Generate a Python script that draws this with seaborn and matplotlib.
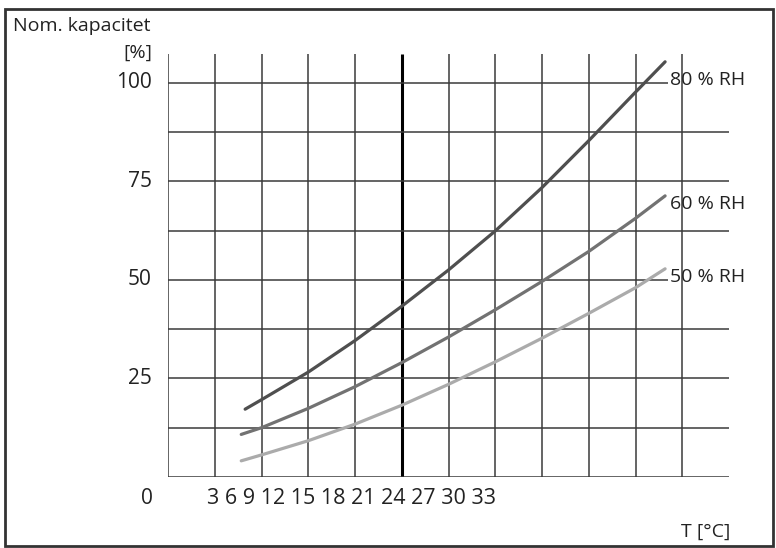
import numpy as np
import pandas as pd
import seaborn as sns
import matplotlib
matplotlib.use("Agg")
import matplotlib.pyplot as plt
from matplotlib.patches import Rectangle

# %% data
rh_labels = ["80 % RH", "60 % RH", "50 % RH"]
temp_80 = [4.95, 6, 9, 12, 15, 18, 21, 24, 27, 30, 31.9]
cap_80 = [17.2, 19.6, 26.6, 34.6, 43.3, 52.5, 62.4, 73.4, 85.3, 97.6, 105.3]
temp_60 = [4.7, 6, 9, 12, 15, 18, 21, 24, 27, 30, 31.9]
cap_60 = [10.8, 12.5, 17.4, 22.9, 29.0, 35.5, 42.4, 49.6, 57.2, 65.6, 71.3]
temp_50 = [4.7, 6, 9, 12, 15, 18, 21, 24, 27, 30, 31.9]
cap_50 = [4.1, 5.6, 9.2, 13.4, 18.2, 23.5, 29.2, 35.2, 41.5, 48.0, 52.8]

x_tick_labels = ["3", "6", "9", "12", "15", "18", "21", "24", "27", "30", "33"]
y_tick_labels = ["100", "75", "50", "25"]
y_ticks = [100, 75, 50, 25]
grid_x = np.arange(0, 34, 3)
grid_y = np.arange(0, 101, 12.5)

# %% style
sns.set_style("white")
plt.rcParams["font.family"] = ["Open Sans", "DejaVu Sans"]
line_colors = ["#4f4f4f", "#727272", "#ababab"]
grid_color = "#3a3a3a"
txt_color = "#222222"
fs = 14

df = pd.concat([
    pd.DataFrame({"T": temp_80, "cap": cap_80, "rh": rh_labels[0]}),
    pd.DataFrame({"T": temp_60, "cap": cap_60, "rh": rh_labels[1]}),
    pd.DataFrame({"T": temp_50, "cap": cap_50, "rh": rh_labels[2]}),
])

fig = plt.figure(figsize=(7.76, 5.48), dpi=100)
W, H = 776, 548
ax = fig.add_axes([168 / W, (H - 477) / H, (729 - 168) / W, (477 - 54) / H])
ax.set_xlim(0, 36)
ax.set_ylim(0, (477 - 54) / 3.943)
ax.axis("off")

# %% grid
for gx in grid_x:
    lw, c = (2.2, "black") if gx == 15 else (1.1, grid_color)
    ax.vlines(gx, 0, ax.get_ylim()[1], color=c, lw=lw, zorder=1)
for gy in grid_y:
    xend = 32.1 if gy in (100, 50) else 36
    ax.hlines(gy, 0, xend, color=grid_color, lw=1.1, zorder=1)

# %% curves
sns.lineplot(data=df, x="T", y="cap", hue="rh", hue_order=rh_labels,
             palette=line_colors, lw=2.3, legend=False, ax=ax, zorder=3)

label_y = [100.7, 69.2, 50.6]
for lab, ly in zip(rh_labels, label_y):
    ax.text(32.2, ly, lab, fontsize=fs, ha="left", va="center",
            color=txt_color, clip_on=False)

# %% axis texts
for t, yl in zip(y_ticks, y_tick_labels):
    ax.text(-1.03, t, yl, fontsize=15, ha="right", va="center", color=txt_color)
ax.text(-1.37, -5.4, "0", fontsize=15, ha="center", va="center", color=txt_color)
ax.text(2.51, -5.4, " ".join(x_tick_labels), fontsize=15.5, ha="left",
        va="center", color=txt_color)
ax.text(-1.03, 107.6, "[%]", fontsize=fs, ha="right", va="center", color=txt_color)
ax.text(-9.95, 114.4, "Nom. kapacitet", fontsize=fs, ha="left", va="center",
        color=txt_color)
ax.text(36.1, -13.9, "T [°C]", fontsize=fs, ha="right", va="center", color=txt_color)

# %% frame around the whole picture
fig.patches.append(Rectangle((5 / W, (H - 546) / H), (773 - 5) / W, (546 - 9) / H,
                             transform=fig.transFigure, fill=False,
                             edgecolor="#333333", lw=2.0))

fig.savefig("out.png", dpi=100)
